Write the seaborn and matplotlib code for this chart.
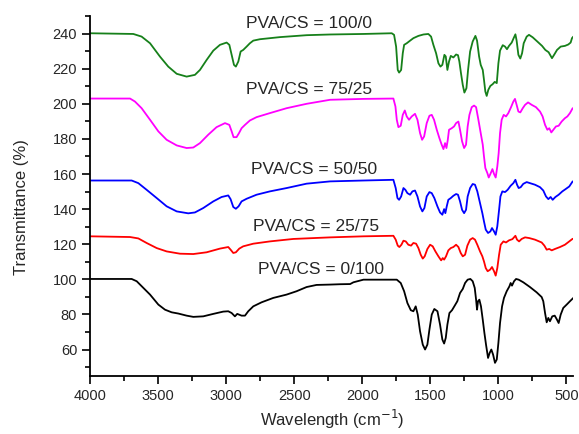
import matplotlib
matplotlib.use('Agg')
import matplotlib.pyplot as plt
import seaborn as sns
import pandas as pd
from matplotlib.ticker import MultipleLocator

# FTIR spectra (wavenumber, transmittance)
wn_green = [4002, 3684, 3623, 3561, 3488, 3427, 3365, 3292, 3231, 3194, 3145, 3096, 3047, 2998, 2978,
            2961, 2944, 2930, 2912, 2895, 2876, 2851, 2827, 2802, 2753, 2606, 2410, 2237, 1992, 1784,
            1767, 1752, 1740, 1730, 1715, 1703, 1693, 1674, 1649, 1625, 1588, 1551, 1515, 1495, 1478,
            1458, 1441, 1426, 1412, 1397, 1387, 1375, 1363, 1350, 1331, 1311, 1297, 1287, 1275, 1262,
            1250, 1235, 1223, 1208, 1189, 1169, 1157, 1142, 1130, 1115, 1106, 1096, 1086, 1074, 1059,
            1042, 1027, 1012, 1000, 988, 968, 951, 937, 922, 902, 888, 875, 866, 853, 839,
            826, 814, 792, 775, 748, 714, 679, 655, 631, 606, 589, 569, 542, 511, 486,
            469, 459, 449]
t_green = [240.2, 239.8, 238.3, 234.5, 226.9, 221.2, 217.1, 215.5, 216.5, 219.3, 225.0, 230.3, 233.6, 234.9, 233.6,
           227.9, 222.2, 221.2, 224.1, 229.8, 230.7, 232.6, 234.5, 236.0, 236.8, 238.0, 239.1, 239.5, 239.8, 240.2,
           239.3, 232.6, 219.3, 217.8, 219.3, 228.8, 233.6, 234.5, 236.0, 237.4, 238.7, 239.5, 239.8, 238.3, 233.6,
           228.8, 223.1, 221.2, 222.2, 227.9, 227.0, 219.3, 224.1, 227.3, 226.4, 228.1, 227.7, 224.1, 217.4, 210.8,
           206.4, 208.9, 219.3, 229.8, 235.5, 238.7, 236.0, 227.0, 222.2, 219.3, 213.7, 207.0, 204.5, 208.0, 210.2,
           211.2, 212.5, 211.8, 223.1, 230.3, 233.4, 232.6, 231.1, 233.0, 234.9, 237.4, 239.6, 236.0, 227.9, 225.8,
           228.8, 234.5, 238.3, 239.3, 237.9, 235.5, 233.0, 230.7, 229.4, 226.0, 228.1, 230.7, 232.6, 233.0, 233.8,
           234.9, 237.4, 238.3]

wn_magenta = [4002, 3708, 3672, 3623, 3561, 3500, 3439, 3365, 3292, 3243, 3194, 3133, 3072, 3010, 2978,
              2961, 2947, 2925, 2907, 2888, 2863, 2827, 2778, 2680, 2557, 2410, 2237, 1992, 1772, 1757,
              1747, 1735, 1718, 1703, 1688, 1674, 1657, 1637, 1613, 1595, 1576, 1561, 1546, 1527, 1507,
              1490, 1473, 1453, 1434, 1417, 1404, 1392, 1382, 1372, 1363, 1343, 1326, 1311, 1294, 1282,
              1267, 1252, 1238, 1226, 1213, 1196, 1179, 1164, 1147, 1130, 1115, 1106, 1096, 1081, 1071,
              1059, 1044, 1032, 1020, 1008, 998, 988, 976, 961, 944, 927, 907, 890, 878, 866,
              853, 839, 821, 804, 782, 755, 724, 694, 675, 657, 640, 626, 611, 596, 577,
              557, 535, 511, 493, 474, 454]
t_magenta = [203.0, 203.0, 201.3, 197.5, 190.9, 184.3, 179.5, 176.3, 174.8, 175.1, 177.6, 182.4, 186.7, 189.0, 188.0,
             184.3, 181.0, 181.0, 183.3, 186.1, 188.0, 190.5, 192.4, 194.7, 197.5, 200.0, 202.3, 202.8, 203.0, 198.5,
             190.9, 186.7, 187.5, 193.7, 196.2, 192.8, 190.9, 192.8, 194.3, 190.9, 183.3, 179.5, 181.4, 189.0, 193.2,
             193.7, 190.9, 185.2, 180.5, 176.7, 174.2, 177.6, 174.8, 179.5, 185.2, 186.1, 187.1, 189.0, 189.9, 185.2,
             178.6, 174.8, 176.7, 187.1, 193.7, 198.1, 199.0, 198.1, 190.9, 183.3, 176.7, 170.0, 163.4, 160.5, 158.0,
             160.0, 162.8, 160.0, 158.0, 164.3, 171.9, 183.3, 190.9, 193.7, 192.8, 194.7, 198.1, 201.3, 202.8, 199.4,
             195.6, 195.1, 197.5, 199.4, 200.8, 199.4, 198.1, 195.6, 192.8, 188.0, 185.2, 186.1, 183.7, 185.2, 187.1,
             187.5, 189.9, 191.8, 192.8, 194.7, 197.5]

wn_blue = [4002, 3696, 3647, 3586, 3512, 3439, 3365, 3280, 3231, 3170, 3096, 3035, 2986, 2969, 2949,
           2930, 2910, 2888, 2851, 2778, 2680, 2557, 2410, 2237, 1992, 1772, 1755, 1742, 1730, 1715,
           1698, 1684, 1669, 1649, 1632, 1613, 1595, 1576, 1559, 1544, 1527, 1507, 1490, 1471, 1448,
           1429, 1412, 1399, 1390, 1380, 1368, 1350, 1331, 1311, 1297, 1282, 1267, 1252, 1238, 1226,
           1208, 1189, 1172, 1155, 1135, 1118, 1106, 1093, 1076, 1059, 1047, 1032, 1020, 1008, 995,
           985, 971, 951, 932, 910, 890, 875, 863, 851, 836, 817, 792, 768, 731, 694,
           670, 650, 633, 616, 601, 581, 557, 530, 506, 479, 454]
t_blue = [156.3, 156.3, 154.8, 151.0, 146.3, 141.6, 138.7, 137.6, 138.1, 140.6, 144.4, 146.9, 147.8, 145.7, 141.2,
          140.2, 141.6, 144.4, 145.9, 148.2, 150.1, 152.0, 154.5, 155.8, 156.3, 156.7, 152.0, 146.3, 145.3, 147.2,
          152.0, 151.0, 149.1, 148.2, 150.1, 150.6, 147.2, 141.5, 138.7, 140.6, 147.2, 149.7, 149.1, 146.3, 141.5,
          138.1, 136.8, 140.0, 137.7, 141.5, 145.3, 146.3, 147.6, 148.6, 148.2, 144.4, 139.6, 137.7, 139.6, 147.2,
          152.0, 154.3, 153.9, 150.1, 143.4, 137.7, 133.0, 128.3, 126.4, 127.3, 129.2, 127.3, 125.4, 130.2, 139.6,
          147.2, 150.1, 149.7, 151.0, 153.3, 154.8, 156.7, 153.9, 152.0, 152.5, 154.4, 155.4, 154.8, 153.9, 152.5,
          150.6, 147.2, 145.7, 146.9, 145.3, 146.9, 148.2, 150.1, 151.4, 152.9, 155.8]

wn_red = [4002, 3708, 3647, 3586, 3512, 3439, 3341, 3243, 3145, 3047, 2986, 2969, 2949, 2930, 2905,
          2876, 2802, 2680, 2508, 2237, 1992, 1772, 1755, 1740, 1728, 1713, 1698, 1681, 1662, 1642,
          1625, 1605, 1588, 1571, 1556, 1542, 1522, 1502, 1483, 1463, 1441, 1421, 1409, 1399, 1385,
          1368, 1350, 1331, 1311, 1294, 1277, 1262, 1245, 1228, 1208, 1189, 1172, 1155, 1135, 1118,
          1106, 1093, 1079, 1061, 1047, 1032, 1020, 1008, 995, 983, 963, 944, 922, 897, 875,
          863, 848, 829, 804, 773, 731, 682, 662, 645, 626, 608, 584, 547, 511, 479, 454]
t_red = [124.5, 124.1, 123.3, 120.7, 117.8, 115.9, 114.6, 114.4, 115.4, 117.5, 118.4, 116.9, 115.0, 115.4, 117.5,
         118.8, 120.3, 121.6, 123.0, 123.9, 124.5, 124.8, 122.6, 119.2, 118.4, 119.7, 122.0, 121.6, 119.7, 119.2,
         120.7, 120.3, 117.8, 114.0, 111.8, 113.1, 117.3, 119.7, 118.8, 115.9, 113.1, 110.8, 112.1, 111.2, 113.1,
         116.5, 117.8, 118.4, 119.7, 118.4, 115.0, 113.1, 114.0, 119.2, 122.6, 123.5, 122.6, 119.7, 115.9, 113.1,
         110.2, 106.4, 104.6, 105.5, 107.0, 104.6, 102.1, 106.4, 114.0, 119.7, 121.6, 121.0, 122.2, 122.9, 124.8,
         122.6, 121.6, 123.0, 123.9, 123.5, 122.6, 121.0, 119.2, 116.9, 117.3, 116.5, 117.3, 118.4, 119.7, 121.6, 123.1]

wn_black = [4002, 3696, 3659, 3610, 3561, 3500, 3451, 3402, 3353, 3292, 3243, 3170, 3096, 3023, 2986,
            2961, 2937, 2920, 2888, 2863, 2839, 2802, 2741, 2655, 2557, 2484, 2410, 2337, 2237, 2164,
            2090, 2066, 1992, 1870, 1747, 1718, 1693, 1669, 1644, 1625, 1608, 1593, 1576, 1556, 1539,
            1522, 1507, 1490, 1471, 1448, 1429, 1412, 1399, 1387, 1375, 1360, 1341, 1321, 1302, 1282,
            1262, 1245, 1226, 1206, 1189, 1174, 1164, 1157, 1150, 1140, 1128, 1115, 1103, 1091, 1076,
            1064, 1052, 1039, 1025, 1012, 1000, 988, 973, 959, 939, 919, 910, 900, 885, 870,
            851, 817, 768, 719, 682, 670, 657, 645, 633, 621, 604, 586, 572, 557, 542,
            523, 498, 474, 449]
t_black = [100.2, 100.2, 98.9, 95.1, 91.3, 85.6, 82.7, 81.2, 80.5, 79.3, 78.6, 78.9, 80.3, 81.6, 81.8,
           80.8, 78.9, 80.3, 79.3, 79.3, 81.8, 84.6, 86.9, 89.4, 91.3, 93.2, 95.6, 96.8, 97.0, 97.2,
           97.3, 98.3, 99.8, 99.8, 99.8, 97.9, 93.2, 86.5, 82.4, 81.8, 84.6, 79.9, 70.4, 62.8, 60.0,
           62.8, 71.4, 79.9, 83.1, 81.8, 74.2, 65.7, 63.4, 66.6, 74.2, 80.8, 82.4, 85.0, 87.5, 92.2,
           94.5, 97.9, 99.8, 100.2, 98.9, 95.1, 88.4, 82.7, 87.5, 88.4, 84.6, 77.0, 69.5, 62.8, 55.2,
           58.1, 60.0, 57.1, 52.4, 54.3, 63.8, 75.1, 84.6, 89.4, 93.2, 96.0, 97.9, 96.4, 98.9, 100.2,
           99.8, 98.3, 95.6, 92.6, 89.9, 87.5, 80.8, 75.5, 78.0, 76.1, 78.9, 79.3, 77.4, 75.1, 79.9,
           83.7, 85.6, 87.5, 89.4]

labels = ['PVA/CS = 100/0', 'PVA/CS = 75/25', 'PVA/CS = 50/50', 'PVA/CS = 25/75', 'PVA/CS = 0/100']
label_wn = [2392, 2392, 2352, 2344, 2306]
label_t = [245.5, 208.0, 162.8, 130.2, 105.5]

series = [(wn_green, t_green, '#16801a'), (wn_magenta, t_magenta, '#ff00ff'),
          (wn_blue, t_blue, '#0000ff'), (wn_red, t_red, '#ff0000'),
          (wn_black, t_black, '#000000')]

sns.set_style('ticks')
plt.rcParams['font.family'] = ['Liberation Sans', 'DejaVu Sans']

fig = plt.figure(figsize=(5.79, 4.34), dpi=100)
ax = fig.add_axes([0.156, 0.134, 0.834, 0.829])

for (wn, t, c), lab in zip(series, labels):
    df = pd.DataFrame({'wn': wn, 't': t})
    sns.lineplot(data=df, x='wn', y='t', color=c, lw=1.3, sort=False, ax=ax)

for lab, x, y in zip(labels, label_wn, label_t):
    ax.text(x, y, lab, ha='center', va='center', fontsize=12.5)

ax.set_xlim(4000, 450)
ax.set_ylim(45, 250)
ax.set_xticks([4000, 3500, 3000, 2500, 2000, 1500, 1000, 500])
ax.set_yticks([60, 80, 100, 120, 140, 160, 180, 200, 220, 240])
ax.xaxis.set_minor_locator(MultipleLocator(250))
ax.yaxis.set_minor_locator(MultipleLocator(10))
ax.tick_params(which='major', direction='out', length=6, width=1.2, labelsize=10.5, color='black')
ax.tick_params(which='minor', direction='out', length=3.5, width=1.2, color='black')
ax.set_xlabel('Wavelength (cm$^{-1}$)', fontsize=12)
ax.set_ylabel('Transmittance (%)', fontsize=12)
ax.xaxis.set_label_coords(0.5, -0.09)
ax.yaxis.set_label_coords(-0.128, 0.47)
sns.despine(ax=ax)
for s in ['left', 'bottom']:
    ax.spines[s].set_linewidth(1.3)
    ax.spines[s].set_color('black')

fig.savefig('out.png', dpi=100)
